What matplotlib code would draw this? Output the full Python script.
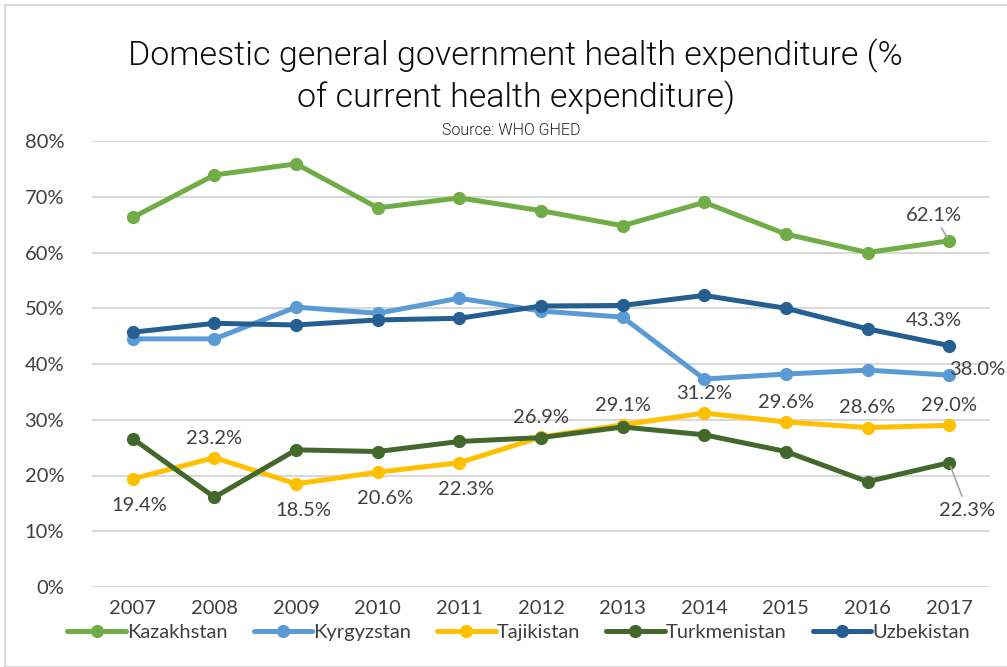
import numpy as np
import matplotlib.pyplot as plt

years = ['2007', '2008', '2009', '2010', '2011', '2012', '2013', '2014', '2015', '2016', '2017']
kazakhstan = [66.3, 73.9, 75.9, 68.0, 69.8, 67.5, 64.8, 69.0, 63.3, 60.0, 62.1]
kyrgyzstan = [44.5, 44.5, 50.2, 49.1, 51.8, 49.5, 48.4, 37.3, 38.2, 38.9, 38.0]
tajikistan = [19.4, 23.2, 18.5, 20.6, 22.3, 26.9, 29.1, 31.2, 29.6, 28.6, 29.0]
turkmenistan = [26.6, 16.1, 24.6, 24.3, 26.1, 26.8, 28.7, 27.3, 24.3, 18.9, 22.3]
uzbekistan = [45.7, 47.3, 47.0, 47.9, 48.2, 50.4, 50.5, 52.3, 50.0, 46.3, 43.3]

series = [
    ('Kazakhstan', kazakhstan, '#70AD47'),
    ('Kyrgyzstan', kyrgyzstan, '#5B9BD5'),
    ('Tajikistan', tajikistan, '#FFC000'),
    ('Turkmenistan', turkmenistan, '#43682B'),
    ('Uzbekistan', uzbekistan, '#255E91'),
]

plt.rcParams['font.family'] = ['Lato', 'DejaVu Sans']
txt = '#404040'

fig = plt.figure(figsize=(10.07, 6.67), dpi=100)
ax = fig.add_axes([92 / 1007, 80 / 667, 898 / 1007, 446 / 667])

x = np.arange(len(years))
for name, vals, col in series:
    ax.plot(x, vals, color=col, lw=3.6, marker='o', ms=8.5, label=name,
            solid_capstyle='round', zorder=3)

ax.set_xlim(-0.5, 10.5)
ax.set_ylim(0, 80)
ax.set_yticks(np.arange(0, 81, 10))
ax.set_yticklabels([f'{v}%' for v in range(0, 81, 10)], fontsize=14.5, color=txt)
ax.set_xticks(x)
ax.set_xticklabels(years, fontsize=14.5, color=txt)
ax.tick_params(length=0)
ax.tick_params(axis='x', pad=9)
ax.tick_params(axis='y', pad=20)
ax.grid(axis='y', color='#D9D9D9', lw=1.5)
for s in ax.spines.values():
    s.set_visible(False)
ax.set_axisbelow(True)

# Tajikistan value labels: above or below each point
below = {0, 2, 3, 4}
for i, v in enumerate(tajikistan):
    if i in below:
        ax.annotate(f'{v:.1f}%', (i, v), xytext=(5, -13), textcoords='offset points',
                    ha='center', va='top', fontsize=14.5, color=txt)
    else:
        ax.annotate(f'{v:.1f}%', (i, v), xytext=(0, 8), textcoords='offset points',
                    ha='center', va='bottom', fontsize=14.5, color=txt)

last = len(years) - 1
ax.annotate(f'{kazakhstan[last]:.1f}%', (last, kazakhstan[last]), xytext=(-11, 12),
            textcoords='offset points', ha='center', va='bottom', fontsize=14.5, color=txt,
            arrowprops=dict(arrowstyle='-', color='#A6A6A6', lw=1.2, shrinkA=1, shrinkB=3))
ax.annotate(f'{uzbekistan[last]:.1f}%', (last, uzbekistan[last]), xytext=(-11, 12),
            textcoords='offset points', ha='center', va='bottom', fontsize=14.5, color=txt)
ax.annotate(f'{kyrgyzstan[last]:.1f}%', (last, kyrgyzstan[last]), xytext=(0, 4),
            textcoords='offset points', ha='left', va='center', fontsize=14.5, color=txt)
ax.annotate(f'{turkmenistan[last]:.1f}%', (last, turkmenistan[last]), xytext=(13, -28),
            textcoords='offset points', ha='center', va='top', fontsize=14.5, color=txt,
            arrowprops=dict(arrowstyle='-', color='#A6A6A6', lw=1.2, shrinkA=2, shrinkB=3))

title_font = dict(family=['Roboto', 'DejaVu Sans'], fontweight=300, fontsize=24.5,
                  color='#0d0d0d', ha='center', va='center')
fig.text(0.512, 0.917, 'Domestic general government health expenditure (%', **title_font)
fig.text(0.512, 0.854, 'of current health expenditure)', **title_font)
fig.text(0.508, 0.804, 'Source: WHO GHED', ha='center', va='center', fontsize=11.5,
         color='#262626', family=['Roboto', 'DejaVu Sans'], fontweight=300)

leg = fig.legend(loc='center', bbox_to_anchor=(0.515, 0.052), ncol=5, frameon=False,
                 fontsize=14.5, handlelength=2.9, handletextpad=0.05, columnspacing=1.3,
                 labelcolor=txt)

# chart border
fig.add_artist(plt.Rectangle((5 / 1007, 0.0), 1.0, 1 - 5 / 667, transform=fig.transFigure,
                             fill=False, edgecolor='#D9D9D9', lw=1.5))

fig.savefig('out.png', dpi=100)
